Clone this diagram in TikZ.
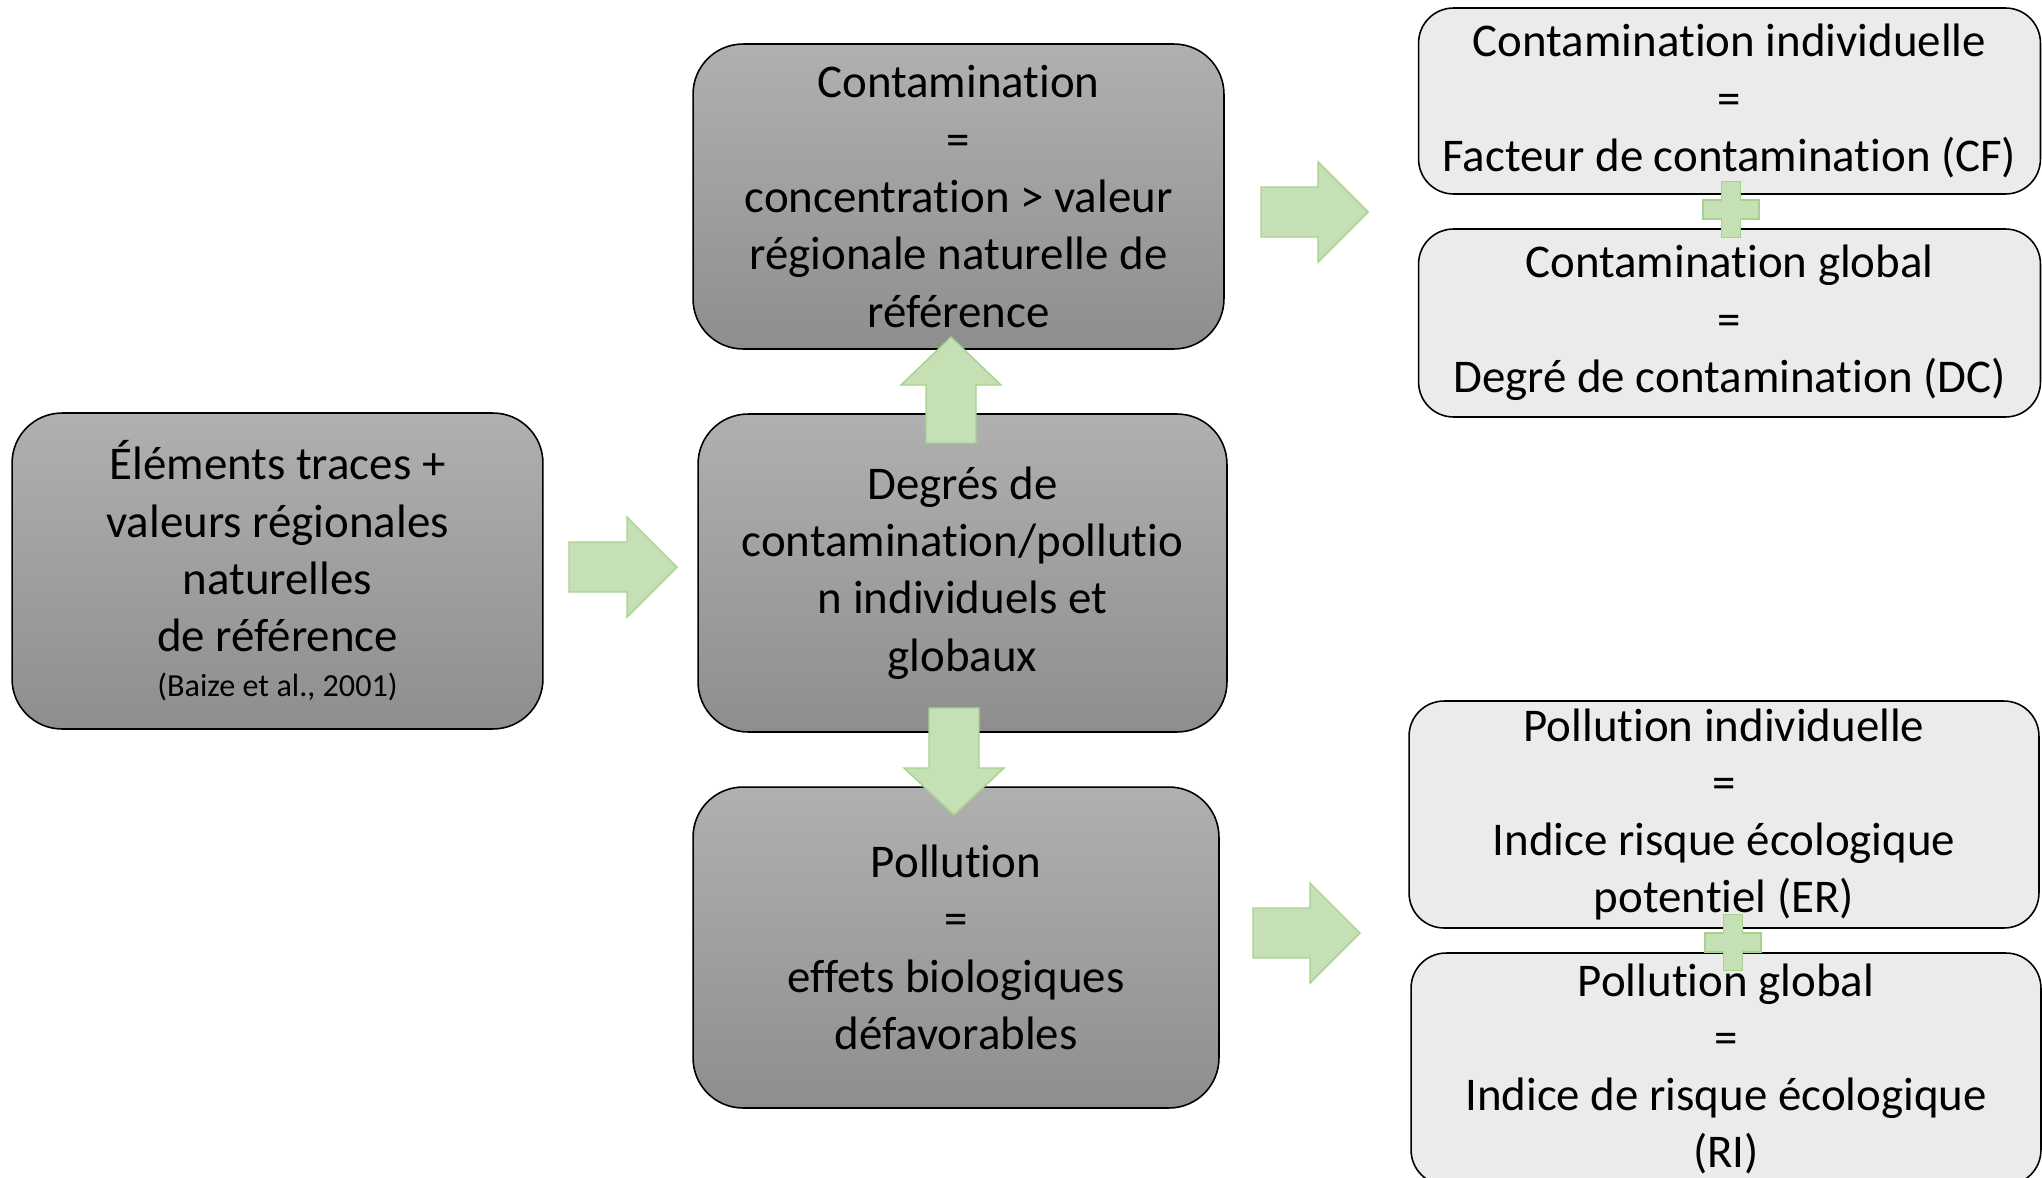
\documentclass[tikz,border=0pt]{standalone}
\usepackage{fontspec}
\setmainfont{Carlito}[Ligatures=NoCommon]
\usetikzlibrary{positioning}

\definecolor{boxtop}{HTML}{B0B0B0}
\definecolor{boxbot}{HTML}{8E8E8E}
\definecolor{boxlight}{HTML}{EBEBEB}
\definecolor{arrowfill}{HTML}{C5E0B4}
\definecolor{arrowedge}{HTML}{A9D18E}

\begin{document}
\begin{tikzpicture}[
    x=0.02cm, y=-0.02cm,
    font=\fontsize{26.7}{32.6}\selectfont,
    darkbox/.style={draw, line width=0.9pt, rounded corners=1cm,
      top color=boxtop, bottom color=boxbot, align=center, inner sep=0pt},
    lightbox/.style={draw, line width=0.9pt, rounded corners=0.7cm,
      fill=boxlight, align=center, inner sep=0pt},
    greenarrow/.style={fill=arrowfill, draw=arrowedge, line width=0.8pt},
    plussign/.pic={
      \path[greenarrow] (-9.5,-28) -- (9.5,-28) -- (9.5,-9.5) -- (28,-9.5)
        -- (28,9.5) -- (9.5,9.5) -- (9.5,28) -- (-9.5,28) -- (-9.5,9.5)
        -- (-28,9.5) -- (-28,-9.5) -- (-9.5,-9.5) -- cycle;
    },
  ]

  \clip (0,0) rectangle (2042,1177);

  % ============================================================
  % Left: input data
  % ============================================================
  \node[darkbox, minimum width=10.62cm, minimum height=6.32cm] (elements) at (277.5,571)
    {\'El\'ements traces +\\valeurs r\'egionales\\naturelles\\de r\'ef\'erence\\[-7pt]
     {\fontsize{18.3}{22}\selectfont (Baize et al., 2001)}};

  % ============================================================
  % Middle column
  % ============================================================
  \node[darkbox, minimum width=10.62cm, minimum height=6.10cm] (contam) at (958.5,196.5)
    {Contamination\\=\\concentration > valeur\\r\'egionale naturelle de\\r\'ef\'erence};

  \node[darkbox, minimum width=10.58cm, minimum height=6.36cm] (degres) at (962.5,573)
    {Degr\'es de\\contamination/pollutio\\n individuels et\\globaux};

  \node[darkbox, minimum width=10.52cm, minimum height=6.42cm] (pollu) at (956,947.5)
    {Pollution\\=\\effets biologiques\\d\'efavorables};

  % ============================================================
  % Right column: indices
  % ============================================================
  \node[lightbox, minimum width=12.44cm, minimum height=3.72cm] (contind) at (1729.5,101)
    {Contamination individuelle\\=\\Facteur de contamination (CF)};
  \node[lightbox, minimum width=12.44cm, minimum height=3.76cm] (contglob) at (1729.5,323)
    {Contamination global\\=\\Degr\'e de contamination (DC)};

  \node[lightbox, minimum width=12.6cm, minimum height=4.54cm] (polind) at (1724,814.5)
    {Pollution individuelle\\=\\Indice risque \'ecologique\\potentiel (ER)};
  \node[lightbox, minimum width=12.6cm, minimum height=4.64cm] (polglob) at (1726,1069)
    {Pollution global\\=\\Indice de risque \'ecologique\\(RI)};

  % ============================================================
  % Block arrows and plus signs
  % ============================================================
  \path[greenarrow] (569,542) -- (627,542) -- (627,517) -- (677,567)
    -- (627,617) -- (627,592) -- (569,592) -- cycle;

  \path[greenarrow] (926,443) -- (926,385) -- (901,385) -- (951,337)
    -- (1001,385) -- (976,385) -- (976,443) -- cycle;

  \path[greenarrow] (929,708) -- (979,708) -- (979,768) -- (1004,768)
    -- (954,815) -- (904,768) -- (929,768) -- cycle;

  \path[greenarrow] (1261,187) -- (1318,187) -- (1318,162) -- (1368,212)
    -- (1318,262) -- (1318,237) -- (1261,237) -- cycle;

  \path[greenarrow] (1253,908) -- (1310,908) -- (1310,883) -- (1360,933)
    -- (1310,983) -- (1310,958) -- (1253,958) -- cycle;

  \pic at (1731,209.5) {plussign};
  \pic at (1733,942.5) {plussign};

\end{tikzpicture}
\end{document}
